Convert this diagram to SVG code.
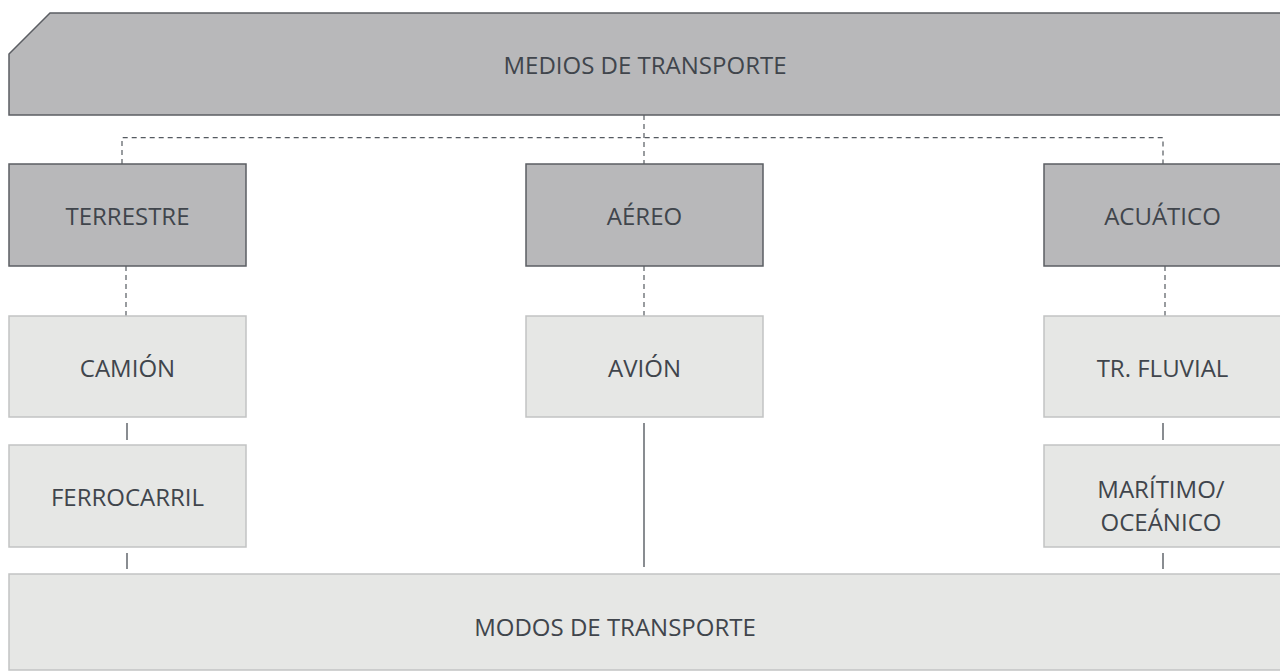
<svg xmlns="http://www.w3.org/2000/svg" width="1280" height="671" viewBox="0 0 1280 671">
<style>
.dark{fill:#b8b8ba;stroke:#5b5e63;stroke-width:1.5}
.light{fill:#e6e7e5;stroke:#c2c3c3;stroke-width:1.5}
.t{font-family:"Open Sans","Noto Sans",sans-serif;font-size:24px;fill:#40454c;text-anchor:middle}
.dash{fill:none;stroke:#555a60;stroke-width:1.2;stroke-dasharray:5 4}
.solid{fill:none;stroke:#4a4f56;stroke-width:1.3}
</style>
<rect width="1280" height="671" fill="#ffffff"/>
<g id="connectors">
<path class="dash" d="M122,164 V137.7 H1163 V164"/>
<path class="dash" d="M644,115 V164"/>
<path class="dash" d="M126,266 V316"/>
<path class="dash" d="M644,266 V316"/>
<path class="dash" d="M1165,266 V316"/>
<path class="solid" d="M127,423 V440"/>
<path class="solid" d="M127,553 V569"/>
<path class="solid" d="M644,423 V567"/>
<path class="solid" d="M1163,423 V440"/>
<path class="solid" d="M1163,553 V569"/>
</g>
<g id="medios">
<polygon class="dark" points="9,54 50,13 1284,13 1284,115 9,115"/>
<text class="t" x="645" y="74">MEDIOS DE TRANSPORTE</text>
</g>
<g id="terrestre">
<rect class="dark" x="9" y="164" width="237" height="102"/>
<text class="t" x="127.5" y="225">TERRESTRE</text>
</g>
<g id="aereo">
<rect class="dark" x="526" y="164" width="237" height="102"/>
<text class="t" x="644.5" y="225">AÉREO</text>
</g>
<g id="acuatico">
<rect class="dark" x="1044" y="164" width="237" height="102"/>
<text class="t" x="1162.5" y="225">ACUÁTICO</text>
</g>
<g id="camion">
<rect class="light" x="9" y="316" width="237" height="101"/>
<text class="t" x="127.5" y="376.5">CAMIÓN</text>
</g>
<g id="avion">
<rect class="light" x="526" y="316" width="237" height="101"/>
<text class="t" x="644.5" y="376.5">AVIÓN</text>
</g>
<g id="fluvial">
<rect class="light" x="1044" y="316" width="237" height="101"/>
<text class="t" x="1162.5" y="376.5">TR. FLUVIAL</text>
</g>
<g id="ferrocarril">
<rect class="light" x="9" y="445" width="237" height="102"/>
<text class="t" x="127.5" y="506">FERROCARRIL</text>
</g>
<g id="maritimo">
<rect class="light" x="1044" y="445" width="237" height="102"/>
<text class="t" x="1161" y="498">MARÍTIMO/</text>
<text class="t" x="1161" y="531">OCEÁNICO</text>
</g>
<g id="modos">
<rect class="light" x="9" y="574" width="1276" height="96"/>
<text class="t" x="615" y="636">MODOS DE TRANSPORTE</text>
</g>
</svg>
